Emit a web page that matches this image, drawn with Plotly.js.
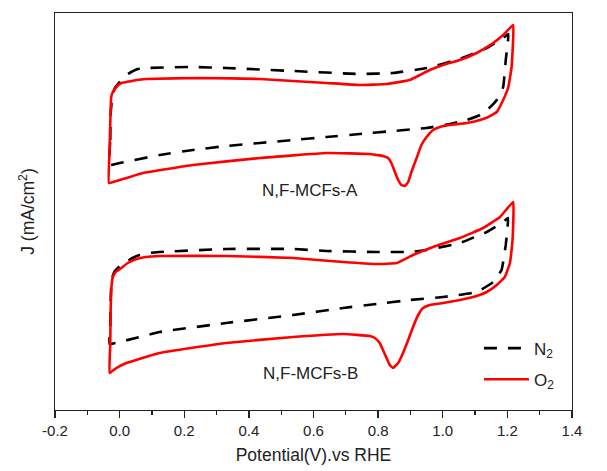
<!DOCTYPE html>
<html><head><meta charset="utf-8">
<script src="https://cdn.plot.ly/plotly-3.0.1.min.js"></script>
<style>body{margin:0;background:#fff}#c{width:607px;height:471px}</style>
</head><body><div id="c"></div>
<script>
// Sample A, O2
const aO2_V = [-0.033,-0.031,-0.029,-0.026,-0.021,-0.010,0.005,0.021,0.052,0.083,0.248,0.434,0.640,0.743,0.826,0.898,0.929,0.960,1.001,1.053,1.105,1.156,1.187,1.218,1.213,1.203,1.187,1.167,1.141,1.115,1.074,1.022,0.991,0.970,0.950,0.934,0.919,0.903,0.893,0.883,0.872,0.862,0.852,0.841,0.831,0.815,0.795,0.774,0.640,0.434,0.227,0.072,0.021,-0.010,-0.033];
const aO2_J = [0.47,0.80,1.07,1.33,1.38,1.43,1.47,1.48,1.50,1.51,1.52,1.51,1.47,1.45,1.46,1.50,1.55,1.60,1.65,1.70,1.77,1.87,1.95,2.05,1.63,1.43,1.30,1.18,1.13,1.10,1.07,1.05,1.03,1.00,0.93,0.85,0.72,0.58,0.48,0.44,0.45,0.50,0.58,0.67,0.72,0.74,0.75,0.76,0.77,0.72,0.65,0.57,0.52,0.49,0.47];
// Sample A, N2
const aN2_V = [-0.031,-0.029,-0.028,-0.023,-0.015,0.000,0.015,0.036,0.056,0.083,0.227,0.330,0.537,0.743,0.846,0.950,1.053,1.136,1.187,1.203,1.195,1.187,1.167,1.141,1.115,1.074,1.022,0.950,0.846,0.743,0.640,0.537,0.434,0.330,0.227,0.124,0.000,-0.031];
const aN2_J = [0.65,0.90,1.15,1.33,1.42,1.48,1.54,1.58,1.61,1.62,1.63,1.62,1.59,1.56,1.57,1.62,1.71,1.82,1.92,1.96,1.70,1.43,1.30,1.21,1.15,1.10,1.06,1.02,0.99,0.96,0.93,0.90,0.87,0.84,0.80,0.75,0.67,0.65];
// Sample B, O2
const bO2_V = [-0.031,-0.029,-0.028,-0.026,-0.021,-0.012,0.005,0.025,0.052,0.081,0.124,0.330,0.537,0.692,0.795,0.857,0.908,0.970,1.053,1.125,1.177,1.218,1.216,1.208,1.192,1.167,1.136,1.105,1.053,1.001,0.960,0.939,0.924,0.908,0.893,0.877,0.862,0.846,0.836,0.826,0.815,0.805,0.790,0.774,0.692,0.537,0.330,0.124,0.021,-0.010,-0.031];
const bO2_J = [-1.43,-1.15,-0.85,-0.60,-0.47,-0.42,-0.38,-0.33,-0.29,-0.27,-0.26,-0.26,-0.28,-0.32,-0.34,-0.33,-0.25,-0.17,-0.08,0.02,0.13,0.28,-0.10,-0.33,-0.47,-0.55,-0.62,-0.66,-0.70,-0.73,-0.75,-0.78,-0.85,-0.97,-1.10,-1.23,-1.33,-1.38,-1.35,-1.28,-1.20,-1.13,-1.08,-1.06,-1.04,-1.07,-1.13,-1.23,-1.33,-1.38,-1.43];
// Sample B, N2
const bN2_V = [-0.031,-0.029,-0.028,-0.025,-0.018,-0.012,0.005,0.021,0.040,0.062,0.090,0.124,0.330,0.537,0.640,0.795,0.898,0.950,1.053,1.136,1.187,1.202,1.195,1.182,1.156,1.105,1.001,0.898,0.795,0.692,0.537,0.330,0.124,0.000,-0.031];
const bN2_J = [-1.14,-0.95,-0.75,-0.50,-0.43,-0.40,-0.35,-0.32,-0.28,-0.25,-0.23,-0.22,-0.19,-0.19,-0.21,-0.22,-0.22,-0.20,-0.13,-0.02,0.08,0.12,-0.15,-0.40,-0.52,-0.62,-0.67,-0.70,-0.74,-0.78,-0.85,-0.93,-1.02,-1.12,-1.14];

const sampleLabels = ["N,F-MCFs-A","N,F-MCFs-B"];
const xTicks = [-0.2,0.0,0.2,0.4,0.6,0.8,1.0,1.2,1.4];
const xTickText = ["-0.2","0.0","0.2","0.4","0.6","0.8","1.0","1.2","1.4"];

const dashStyle = {color:'#000', width:2.6, dash:'13px,11px', shape:'spline', smoothing:0.3};
const redStyle = {color:'#ff0000', width:2.6, shape:'spline', smoothing:0.3};

const traces = [
  {x:aN2_V, y:aN2_J, mode:'lines', line:dashStyle, name:'N<sub>2</sub>', legendgroup:'n2', showlegend:true},
  {x:aO2_V, y:aO2_J, mode:'lines', line:redStyle, name:'O<sub>2</sub>', legendgroup:'o2', showlegend:true},
  {x:bN2_V, y:bN2_J, mode:'lines', line:dashStyle, name:'N2', legendgroup:'n2', showlegend:false},
  {x:bO2_V, y:bO2_J, mode:'lines', line:redStyle, name:'O2', legendgroup:'o2', showlegend:false}
];

const fontF = 'Liberation Sans, Arial, sans-serif';
const layout = {
  width:607, height:471,
  margin:{l:55, r:35, t:13, b:61},
  paper_bgcolor:'#fff', plot_bgcolor:'#fff',
  font:{family:fontF, size:15, color:'#222'},
  showlegend:true,
  legend:{x:0.82, y:0.2, xanchor:'left', yanchor:'top', bgcolor:'rgba(0,0,0,0)', font:{size:17, family:fontF, color:'#222'}, itemwidth:45, traceorder:'grouped', tracegroupgap:6},
  xaxis:{
    range:[-0.2,1.4], tickmode:'array', tickvals:xTicks, ticktext:xTickText,
    ticks:'outside', ticklen:7, tickwidth:1.3, tickcolor:'#222',
    minor:{dtick:0.1, ticks:'outside', ticklen:4, tickwidth:1.3, tickcolor:'#222'},
    showline:true, linecolor:'#222', linewidth:1.3, mirror:true,
    showgrid:false, zeroline:false,
    tickfont:{size:15, family:fontF, color:'#222'},
    title:{text:'Potential(V).vs RHE', font:{size:17.5, family:fontF, color:'#222'}, standoff:10}
  },
  yaxis:{
    range:[-1.80,2.17], showticklabels:false, ticks:'',
    showline:true, linecolor:'#222', linewidth:1.3, mirror:true,
    showgrid:false, zeroline:false,
    title:{text:'J (mA/cm<sup>2</sup>)', font:{size:17.5, family:fontF, color:'#222'}, standoff:14}
  },
  annotations:[
    {x:0.59, y:0.40, xref:'x', yref:'y', text:sampleLabels[0], showarrow:false, font:{size:17, family:fontF, color:'#222'}},
    {x:0.59, y:-1.43, xref:'x', yref:'y', text:sampleLabels[1], showarrow:false, font:{size:17, family:fontF, color:'#222'}}
  ]
};
Plotly.newPlot('c', traces, layout, {displayModeBar:false, staticPlot:true});
</script></body></html>
